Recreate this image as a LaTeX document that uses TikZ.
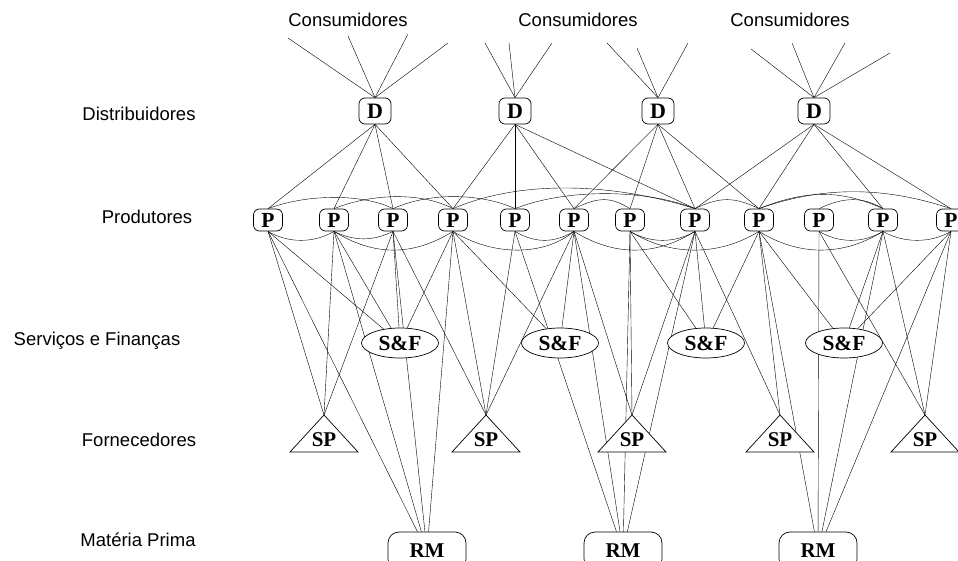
\documentclass[tikz,border=0pt]{standalone}
\usepackage{fontspec}
\setmainfont{Liberation Serif}
\newfontfamily\labelsans{Liberation Sans}
\usetikzlibrary{shapes.geometric}
\pgfdeclarelayer{links}
\pgfsetlayers{links,main}
\begin{document}
\begin{tikzpicture}[x=1pt,y=-1pt,line width=0.7pt,
  tier/.style={font=\labelsans\fontsize{18.5}{20}\selectfont,inner sep=0pt},
  box/.style={draw,fill=white,font=\bfseries\fontsize{21}{22}\selectfont,inner sep=0pt},
  dnode/.style={box,font=\bfseries\fontsize{22}{24}\selectfont,rounded corners=6pt,minimum width=32pt,minimum height=26pt},
  pnode/.style={box,font=\bfseries\fontsize{21.5}{23}\selectfont,rounded corners=6pt,minimum width=29pt,minimum height=22pt},
  sfnode/.style={box,font=\bfseries\fontsize{21.5}{23}\selectfont,ellipse,minimum width=77pt,minimum height=30pt},
  rmnode/.style={box,rounded corners=11pt,minimum width=78pt,minimum height=38pt},
  sptext/.style={font=\bfseries\fontsize{21}{22}\selectfont,inner sep=0pt},
  sptri/.style={draw,fill=white,line join=miter}]
\useasboundingbox (0,0) rectangle (958,561);
\clip (0,0) rectangle (958,561);

% tier labels
\node[tier] (lc1) at (348,20) {Consumidores};
\node[tier] (lc2) at (578,20) {Consumidores};
\node[tier] (lc3) at (790,20) {Consumidores};
\node[tier] (ldis) at (139,114) {Distribuidores};
\node[tier] (lpro) at (147,217) {Produtores};
\node[tier] (lsf)  at (97,341) {Serviços e Finanças};
\node[tier] (lfor) at (139,440) {Fornecedores};
\node[tier] (lmat) at (138,540) {Matéria Prima};

% consumer line ends
\coordinate (c11) at (288,38);  \coordinate (c12) at (348,36);
\coordinate (c13) at (408,34);  \coordinate (c14) at (448,43);
\coordinate (c21) at (485,43);  \coordinate (c22) at (509,43);
\coordinate (c23) at (552,43);
\coordinate (c31) at (607,43);  \coordinate (c32) at (637,48);
\coordinate (c33) at (688,43);
\coordinate (c41) at (751,49);  \coordinate (c42) at (792,43);
\coordinate (c43) at (845,43);  \coordinate (c44) at (890,53);

% distributors
\node[dnode] (d1) at (375,111) {D};
\node[dnode] (d2) at (515,111) {D};
\node[dnode] (d3) at (658,111) {D};
\node[dnode] (d4) at (814,111) {D};

% producers
\foreach \i/\x in {1/268,2/334,3/393,4/453,5/515,6/574,7/630,8/695,9/759,10/819,11/883,12/951}
  \node[pnode] (p\i) at (\x,220) {P};

% services and finance
\node[sfnode] (sf1) at (400,343) {S\&F};
\node[sfnode] (sf2) at (560,343) {S\&F};
\node[sfnode] (sf3) at (706,343) {S\&F};
\node[sfnode] (sf4) at (844,343) {S\&F};

% suppliers
\foreach \i/\x in {1/324,2/486,3/632,4/780,5/925}{
  \draw[sptri] (\x,415) -- (\x+34,452) -- (\x-34,452) -- cycle;
  \coordinate (sp\i) at (\x,415);
  \node[sptext] (spl\i) at (\x,440) {SP};
}

% raw material
\node[rmnode] (rm1) at (427,551) {RM};
\node[rmnode] (rm2) at (623,551) {RM};
\node[rmnode] (rm3) at (818,551) {RM};

\begin{pgfonlayer}{links}
% consumers to distributors
\foreach \c in {c11,c12,c13,c14} \draw (\c) -- (d1.north);
\foreach \c in {c21,c22,c23} \draw (\c) -- (d2.north);
\foreach \c in {c31,c32,c33} \draw (\c) -- (d3.north);
\foreach \c in {c41,c42,c43,c44} \draw (\c) -- (d4.north);

% distributors to producers
\foreach \p in {1,2,3,4} \draw (d1.south) -- (p\p.north);
\foreach \p in {4,5,6,8} \draw (d2.south) -- (p\p.north);
\foreach \p in {6,7,8,9} \draw (d3.south) -- (p\p.north);
\foreach \p in {8,9,11,12} \draw (d4.south) -- (p\p.north);

% links between producers, above the row
\draw (p1.north) .. controls +(40,-15) and +(-30,-15) .. (p3.north);
\draw (p2.north) .. controls +(40,-16) and +(-30,-16) .. (p4.north);
\draw (p3.north) .. controls +(40,-18) and +(-30,-14) .. (p5.north);
\draw (p4.north) .. controls +(70,-30) and +(-80,-25) .. (p8.north);
\draw (p5.north) .. controls +(50,-20) and +(-50,-20) .. (p8.north);
\draw (p6.north) .. controls +(25,-12) and +(-20,-12) .. (p7.north);
\draw (p8.north) .. controls +(25,-12) and +(-25,-12) .. (p9.north);
\draw (p9.north) .. controls +(50,-20) and +(-40,-18) .. (p11.north);
\draw (p9.north) .. controls +(70,-25) and +(-60,-20) .. (p12.north);
\draw (p10.north) .. controls +(25,-12) and +(-20,-12) .. (p11.north);

% links between producers, below the row
\draw (p1.south) .. controls +(20,12) and +(-20,12) .. (p2.south);
\draw (p2.south) .. controls +(20,10) and +(-20,10) .. (p3.south);
\draw (p2.south) .. controls +(40,25) and +(-40,25) .. (p4.south);
\draw (p4.south) .. controls +(40,25) and +(-30,25) .. (p6.south);
\draw (p5.south) .. controls +(20,12) and +(-20,12) .. (p6.south);
\draw (p6.south) .. controls +(40,25) and +(-40,25) .. (p8.south);
\draw (p7.south) .. controls +(20,12) and +(-20,12) .. (p8.south);
\draw (p7.south) .. controls +(40,25) and +(-40,25) .. (p9.south);
\draw (p9.south) .. controls +(40,25) and +(-40,25) .. (p11.south);
\draw (p10.south) .. controls +(20,12) and +(-20,12) .. (p11.south);
\draw (p11.south) .. controls +(20,12) and +(-20,12) .. (p12.south);

% producers to services, suppliers and raw material
\foreach \a/\b in {p1/sf1,p1/rm1,p2/sf1,p2/rm1,p3/sf1,p3/rm1,
                   p4/sf1,p4/rm1,p4/sf2,p5/rm2,p6/sf2,p6/rm2,
                   p7/rm2,p7/sf3,p8/rm2,p8/sf3,p9/sf3,p9/rm3,p9/sf4,
                   p10/rm3,p11/sf4,p11/rm3,p12/sf4,p12/rm3}
  \draw (\a.south) -- (\b);
\foreach \a/\b in {p1/sp1,p2/sp1,p3/sp1,p3/sp2,p4/sp2,p5/sp2,p6/sp2,
                   p6/sp3,p7/sp3,p8/sp3,p8/sp4,p9/sp4,
                   p10/sp5,p11/sp5,p12/sp5}
  \draw (\a.south) -- (\b);
\end{pgfonlayer}
\end{tikzpicture}
\end{document}
